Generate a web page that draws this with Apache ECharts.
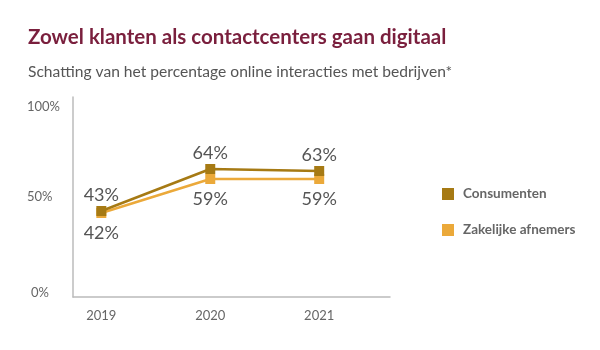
<!DOCTYPE html>
<html><head><meta charset="utf-8">
<script src="https://cdn.jsdelivr.net/npm/echarts@6/dist/echarts.min.js"></script>
<style>html,body{margin:0;padding:0;background:#fff}#c{width:600px;height:350px}</style>
</head><body><div id="c"></div>
<script>
const years = [2019, 2020, 2021];
const consumenten = [43, 64, 63];
const zakelijk = [42, 59, 59];
const yTicks = [0, 50, 100];
const seriesNames = ['Consumenten', 'Zakelijke afnemers'];
const FONT = 'Lato';
const chart = echarts.init(document.getElementById('c'), null, {renderer: 'canvas'});
chart.setOption({
  animation: false,
  textStyle: {fontFamily: FONT},
  title: [
    {text: 'Zowel klanten als contactcenters gaan digitaal', left: 23, top: 22,
     textStyle: {fontFamily: FONT, fontSize: 20.5, fontWeight: 'bold', color: '#7A1F3D'}},
    {text: 'Schatting van het percentage online interacties met bedrijven*', left: 23, top: 59,
     textStyle: {fontFamily: FONT, fontSize: 15.6, fontWeight: 'normal', color: '#555'}}
  ],
  legend: {
    orient: 'vertical', left: 437, top: 182, itemGap: 22, itemWidth: 12, itemHeight: 12,
    icon: 'rect', data: seriesNames,
    textStyle: {fontFamily: FONT, fontSize: 13.5, fontWeight: 'bold', color: '#666', padding: [0, 0, 0, 4]}
  },
  grid: {left: 73, top: 97, width: 317, height: 200},
  xAxis: {
    type: 'value', min: 2018.74, max: 2021.65,
    axisLine: {show: true, lineStyle: {color: '#bbb', width: 1.5}},
    axisTick: {show: false}, splitLine: {show: false},
    axisLabel: {customValues: years, color: '#666', fontSize: 13, margin: 12, fontFamily: FONT,
      formatter: v => String(v)}
  },
  yAxis: {
    type: 'value', min: 0, max: 100, interval: 50,
    axisLine: {show: true, lineStyle: {color: '#bbb', width: 1.5}},
    axisTick: {show: false}, splitLine: {show: false},
    axisLabel: {color: '#666', fontSize: 13, align: 'left', margin: 46, fontFamily: FONT,
      customValues: yTicks,
      formatter: v => v === 100 ? '{t|' + v + '%}' : v === 0 ? '{b|' + v + '%}' : v + '%',
      rich: {
        t: {fontSize: 13, color: '#666', fontFamily: FONT, padding: [20, 0, 0, 0]},
        b: {fontSize: 13, color: '#666', fontFamily: FONT, padding: [0, 0, 8, 4]}
      }}
  },
  series: [
    {name: seriesNames[0], type: 'line', data: years.map((y, i) => [y, consumenten[i]]),
     symbol: 'rect', symbolSize: 10, color: '#A67A14', lineStyle: {width: 2.5, color: '#A67A14'},
     label: {show: true, position: 'top', distance: 2, formatter: p => p.value[1] + '%',
       fontSize: 18, color: '#555', fontFamily: FONT}, z: 3},
    {name: seriesNames[1], type: 'line', data: years.map((y, i) => [y, zakelijk[i]]),
     symbol: 'rect', symbolSize: 10, color: '#EBA93A', lineStyle: {width: 2.5, color: '#EBA93A'},
     label: {show: true, position: 'bottom', distance: 6, formatter: p => p.value[1] + '%',
       fontSize: 18, color: '#555', fontFamily: FONT}, z: 2}
  ]
});
</script></body></html>
